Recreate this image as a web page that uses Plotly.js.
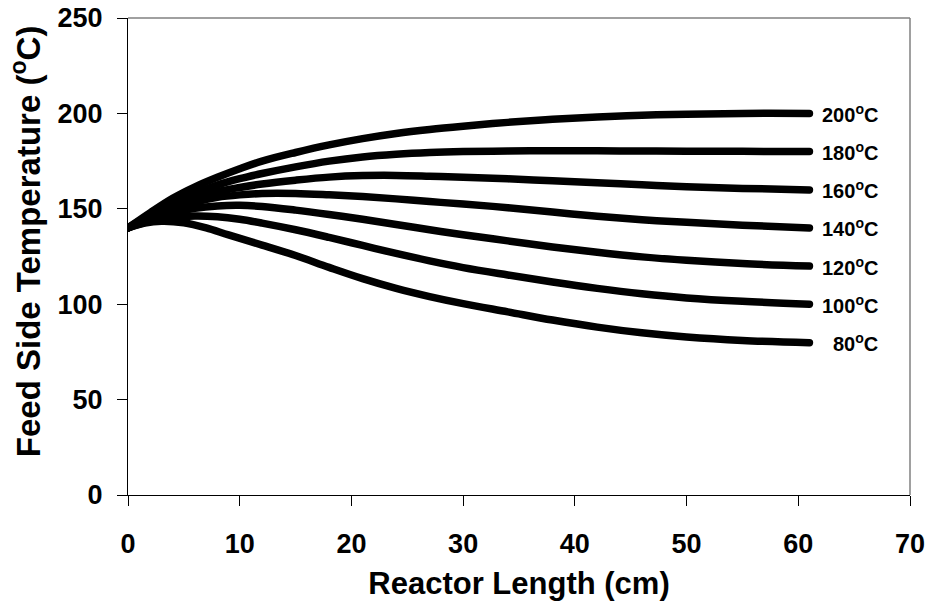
<!DOCTYPE html>
<html>
<head>
<meta charset="utf-8">
<script src="https://cdn.plot.ly/plotly-3.0.1.min.js"></script>
<style>
  html, body { margin: 0; padding: 0; background: #fff; }
  #chart { width: 928px; height: 601px; }
  .scatterlayer path.js-line { stroke-linecap: round !important; stroke-linejoin: round !important; }
</style>
</head>
<body>
<div id="chart"></div>
<script>
// Reactor length (cm) sample positions and feed side temperature (°C) for each sweep temperature
const xCommon = [0, 2, 4, 6, 8, 10, 12, 15, 18, 21, 24, 27, 30, 34, 38, 42, 46, 50, 55, 61];
const y200 = [140, 148, 155.5, 161.5, 166.5, 171, 175, 179.5, 183.5, 186.8, 189.5, 191.6, 193.3, 195.3, 196.9, 198.1, 199, 199.6, 200, 200];
const y180 = [140, 147, 153, 158, 162.5, 165.8, 168.5, 172, 175, 177.2, 178.6, 179.5, 180, 180.3, 180.4, 180.4, 180.3, 180.2, 180.1, 180];
const y160 = [140, 146, 151.5, 155.5, 159, 161.2, 163, 165, 166.6, 167.4, 167.5, 167.1, 166.6, 165.7, 164.7, 163.6, 162.6, 161.6, 160.7, 159.9];
const y140 = [140, 145.5, 150, 153.5, 156, 157.3, 158, 158, 157.3, 156.4, 155.2, 153.8, 152.5, 150.6, 148.3, 146.1, 144.3, 142.9, 141.4, 140];
const y120 = [140, 144.5, 148, 150.3, 151.5, 151.8, 151.2, 149.3, 147, 144.5, 141.8, 139, 136.4, 133.2, 130, 127.2, 124.8, 123, 121.3, 120];
const y100 = [140, 143.5, 145.5, 146.2, 145.8, 144.5, 142.5, 139, 135, 130.8, 126.6, 122.7, 119.2, 115.3, 111.6, 108.3, 105.5, 103.3, 101.5, 100];
const x80 = [0, 1.5, 3, 5, 7, 9, 12, 15, 18, 21, 24, 27, 30, 34, 38, 42, 46, 50, 55, 61];
const y80 = [140, 142.5, 143.5, 142.7, 140, 136.3, 131, 125.5, 119.3, 113.4, 108.3, 104, 100.3, 96, 91.7, 88, 85, 82.8, 81, 79.8];

const seriesX = [xCommon, xCommon, xCommon, xCommon, xCommon, xCommon, x80];
const seriesY = [y200, y180, y160, y140, y120, y100, y80];
const seriesLabels = ['200', '180', '160', '140', '120', '100', '80'];

const xTicks = [0, 10, 20, 30, 40, 50, 60, 70];
const yTicks = [0, 50, 100, 150, 200, 250];

const FONT = 'Arial, "Liberation Sans", Helvetica, sans-serif';

const traces = seriesX.map((xs, i) => ({
  type: 'scatter',
  mode: 'lines',
  x: xs,
  y: seriesY[i],
  line: { color: '#000000', width: 7.5, shape: 'spline', smoothing: 1 },
  hoverinfo: 'skip',
  showlegend: false
}));

const annotations = seriesY.map((ys, i) => ({
  x: 67.3,
  y: ys[ys.length - 1],
  xref: 'x',
  yref: 'y',
  xanchor: 'right',
  yanchor: 'middle',
  text: '<b>' + seriesLabels[i] + '<sup>o</sup>C</b>',
  showarrow: false,
  font: { family: FONT, size: 20, color: '#000' }
}));

// y-axis title (positioned like the reference, slightly above the plot's centre)
annotations.push({
  xref: 'paper',
  yref: 'paper',
  x: 0,
  y: 0.532,
  xshift: -102,
  xanchor: 'center',
  yanchor: 'middle',
  textangle: -90,
  text: '<b>Feed Side Temperature (<sup>o</sup>C)</b>',
  showarrow: false,
  font: { family: FONT, size: 33, color: '#000' }
});

const layout = {
  width: 928,
  height: 601,
  margin: { l: 128, r: 18, t: 18, b: 106 },
  paper_bgcolor: '#ffffff',
  plot_bgcolor: '#ffffff',
  font: { family: FONT, color: '#000' },
  xaxis: {
    range: [0, 70],
    tickvals: xTicks,
    ticktext: xTicks.map(v => '<b>' + v + '</b>'),
    ticks: 'outside',
    ticklen: 10,
    tickwidth: 1,
    tickcolor: '#000',
    ticklabelstandoff: 15,
    showline: true,
    linecolor: '#000',
    linewidth: 1,
    showgrid: false,
    zeroline: false,
    automargin: false,
    tickfont: { family: FONT, size: 27, color: '#000' },
    title: { text: '<b>Reactor Length (cm)</b>', font: { family: FONT, size: 31, color: '#000' }, standoff: 14 }
  },
  yaxis: {
    range: [0, 250],
    tickvals: yTicks,
    ticktext: yTicks.map(v => '<b>' + v + '</b>'),
    ticks: 'outside',
    ticklen: 10,
    tickwidth: 1,
    tickcolor: '#000',
    ticklabelstandoff: 9,
    showline: true,
    linecolor: '#000',
    linewidth: 1,
    showgrid: false,
    zeroline: false,
    automargin: false,
    tickfont: { family: FONT, size: 27, color: '#000' }
  },
  shapes: [
    { type: 'line', xref: 'paper', yref: 'paper', x0: 0, x1: 1, y0: 1, y1: 1, line: { color: '#808080', width: 1.5 } },
    { type: 'line', xref: 'paper', yref: 'paper', x0: 1, x1: 1, y0: 0, y1: 1, line: { color: '#808080', width: 1.5 } }
  ],
  annotations: annotations,
  showlegend: false
};

Plotly.newPlot('chart', traces, layout, { displayModeBar: false, staticPlot: true });
</script>
</body>
</html>
